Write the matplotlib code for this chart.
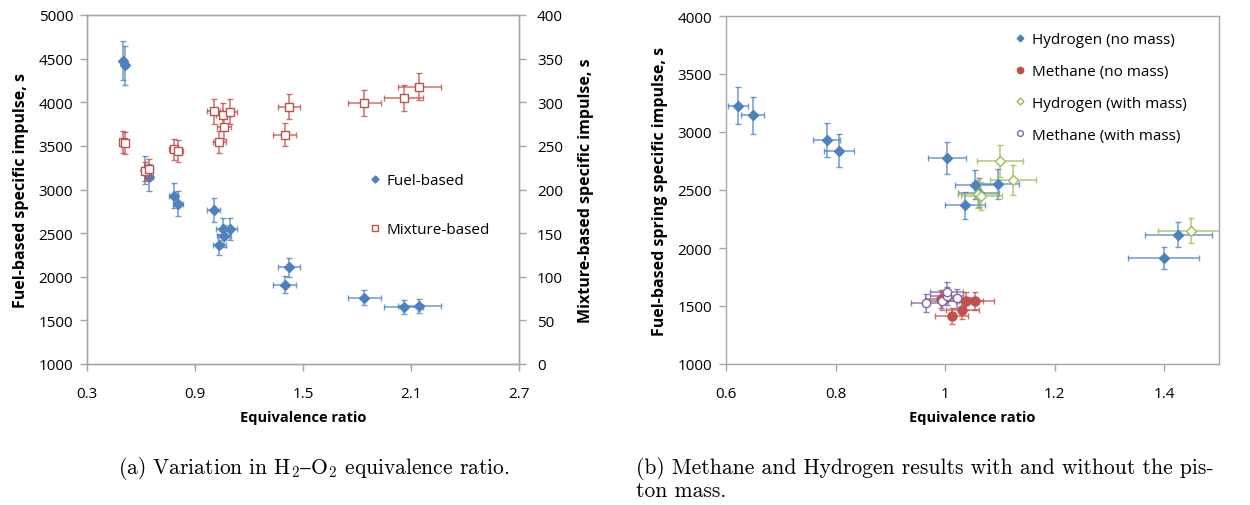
import numpy as np
import matplotlib
matplotlib.use('Agg')
import matplotlib.pyplot as plt
from matplotlib.ticker import MultipleLocator, FixedLocator, FuncFormatter

plt.rcParams['font.family'] = ['Open Sans', 'DejaVu Sans']
plt.rcParams['mathtext.fontset'] = 'cm'

BLUE = '#4f81bd'
RED = '#c0504d'
GREEN = '#9bbb59'
PURPLE = '#8064a2'
GRID = '#a6a6a6'

# (a) H2-O2 runs at varying equivalence ratio
phi_a = [0.502, 0.511, 0.622, 0.646, 0.783, 0.806, 1.004, 1.035,
         1.056, 1.063, 1.096, 1.398, 1.424, 1.841, 2.059, 2.146]
phi_a_err = [0.015, 0.015, 0.019, 0.020, 0.025, 0.026, 0.035, 0.036,
             0.037, 0.038, 0.040, 0.065, 0.062, 0.090, 0.108, 0.118]
isp_fuel = [4473, 4424, 3223, 3140, 2929, 2838, 2769, 2367,
            2547, 2470, 2547, 1909, 2108, 1760, 1650, 1665]
isp_mix = [254, 253, 221, 224, 246, 244, 289.6, 254,
           285, 272, 289, 263, 295, 299.5, 305, 318]
phi_a_ticks = [0.3, 0.9, 1.5, 2.1, 2.7]

# (b) hydrogen / methane, with and without piston mass
h2_phi = [0.622, 0.649, 0.784, 0.806, 1.003, 1.036, 1.055, 1.061, 1.096, 1.399, 1.426]
h2_phi_err = [0.019, 0.021, 0.025, 0.028, 0.035, 0.036, 0.037, 0.037, 0.038, 0.065, 0.062]
h2_isp = [3227, 3144, 2928, 2839, 2773, 2368, 2546, 2477, 2552, 1911, 2115]

ch4_phi = [0.993, 1.012, 1.031, 1.038, 1.054]
ch4_phi_err = [0.030, 0.030, 0.030, 0.032, 0.035]
ch4_isp = [1563, 1414, 1463, 1546, 1546]

h2m_phi = [1.060, 1.066, 1.100, 1.124, 1.449]
h2m_phi_err = [0.037, 0.037, 0.042, 0.042, 0.060]
h2m_isp = [2465, 2448, 2750, 2584, 2147]

ch4m_phi = [0.966, 0.995, 1.003, 1.003, 1.021]
ch4m_phi_err = [0.029, 0.030, 0.030, 0.030, 0.031]
ch4m_isp = [1523, 1545, 1585, 1625, 1565]

REL_ERR = 0.05


def series(ax, x, xerr, y, color, marker, filled, ms):
    y = np.asarray(y, dtype=float)
    c = ax.errorbar(x, y, xerr=xerr, yerr=REL_ERR * y, fmt=marker,
                    ms=ms, mew=1.0, color=color,
                    mfc=color if filled else 'white', mec=color,
                    ecolor=color, elinewidth=1.1, capsize=2.2,
                    capthick=1.1, zorder=3)
    for part in c[1] + c[2]:
        part.set_alpha(0.8)
    return c[0]


def style_axes(ax, right=None):
    for ax_ in [ax] + ([right] if right is not None else []):
        for s in ax_.spines.values():
            s.set_color(GRID)
            s.set_linewidth(1.0)
    ax.tick_params(axis='both', direction='out', color=GRID, length=5,
                   width=1.0, labelsize=11)
    ax.tick_params(axis='x', pad=11)
    ax.tick_params(axis='y', pad=5)


general = FuncFormatter(lambda v, p: '%g' % round(v, 2))

fig = plt.figure(figsize=(12.5, 5.06), dpi=100)
W, H = 1250.0, 506.0

# ---- panel (a)
ax = fig.add_axes([87 / W, 1 - 365 / H, 432 / W, 349 / H])
ax2 = ax.twinx()
h_fuel = series(ax, phi_a, phi_a_err, isp_fuel, BLUE, 'D', True, 4.8)
h_mix = series(ax2, phi_a, phi_a_err, isp_mix, RED, 's', False, 5.5)

ax.set_xlim(0.3, 2.7)
ax.set_ylim(1000, 5000)
ax2.set_ylim(0, 400)
ax.xaxis.set_major_locator(FixedLocator(phi_a_ticks))
ax.yaxis.set_major_locator(MultipleLocator(500))
ax2.yaxis.set_major_locator(MultipleLocator(50))
ax.xaxis.set_major_formatter(general)
style_axes(ax, ax2)
ax2.tick_params(axis='y', direction='out', color=GRID, length=5,
                width=1.0, labelsize=11, pad=8)
ax.set_xlabel('Equivalence ratio', fontsize=10.5, fontweight='bold',
              labelpad=6)
ax.set_ylabel('Fuel-based specific impulse, s', fontsize=11.5,
              fontweight='bold', labelpad=7)
ax2.set_ylabel('Mixture-based specific impulse, s', fontsize=11.5,
               fontweight='bold', labelpad=11)
ax2.legend([h_fuel, h_mix], ['Fuel-based', 'Mixture-based'],
           loc='upper left', bbox_to_anchor=(364 / W, 1 - 168 / H),
           bbox_transform=fig.transFigure, frameon=False, fontsize=11,
           handlelength=0.6, handletextpad=0.5, labelspacing=2.25,
           markerscale=0.75, borderaxespad=0)

# ---- panel (b)
bx = fig.add_axes([726 / W, 1 - 365 / H, 493 / W, 348 / H])
hb1 = series(bx, h2_phi, h2_phi_err, h2_isp, BLUE, 'D', True, 4.8)
hb2 = series(bx, ch4_phi, ch4_phi_err, ch4_isp, RED, 'o', True, 6.5)
hb3 = series(bx, h2m_phi, h2m_phi_err, h2m_isp, GREEN, 'D', False, 5)
hb4 = series(bx, ch4m_phi, ch4m_phi_err, ch4m_isp, PURPLE, 'o', False, 6)

bx.set_xlim(0.6, 1.5)
bx.set_ylim(1000, 4000)
bx.xaxis.set_major_locator(MultipleLocator(0.2))
bx.yaxis.set_major_locator(MultipleLocator(500))
bx.xaxis.set_major_formatter(general)
style_axes(bx)
bx.set_xlabel('Equivalence ratio', fontsize=10.5, fontweight='bold',
              labelpad=6)
bx.set_ylabel('Fuel-based spring specific impulse, s', fontsize=11.5,
              fontweight='bold', labelpad=7)
bx.legend([hb1, hb2, hb3, hb4],
          ['Hydrogen (no mass)', 'Methane (no mass)',
           'Hydrogen (with mass)', 'Methane (with mass)'],
          loc='upper left', bbox_to_anchor=(1009 / W, 1 - 27 / H),
          bbox_transform=fig.transFigure, frameon=False, fontsize=11,
          handlelength=0.6, handletextpad=0.5, labelspacing=1.1,
          markerscale=0.7, borderaxespad=0)

# ---- captions
cap = dict(fontsize=15.5, family='cmr10', va='center')
fig.text(118 / W, 1 - 469 / H,
         r'(a) Variation in H$_2$$–$O$_2$ equivalence ratio.', **cap)
fig.text(636 / W, 1 - 469 / H,
         '(b) Methane and Hydrogen results with and without the pis-', **cap)
fig.text(636 / W, 1 - 491 / H, 'ton mass.', **cap)

fig.savefig('out.png', dpi=100)
plt.close(fig)
